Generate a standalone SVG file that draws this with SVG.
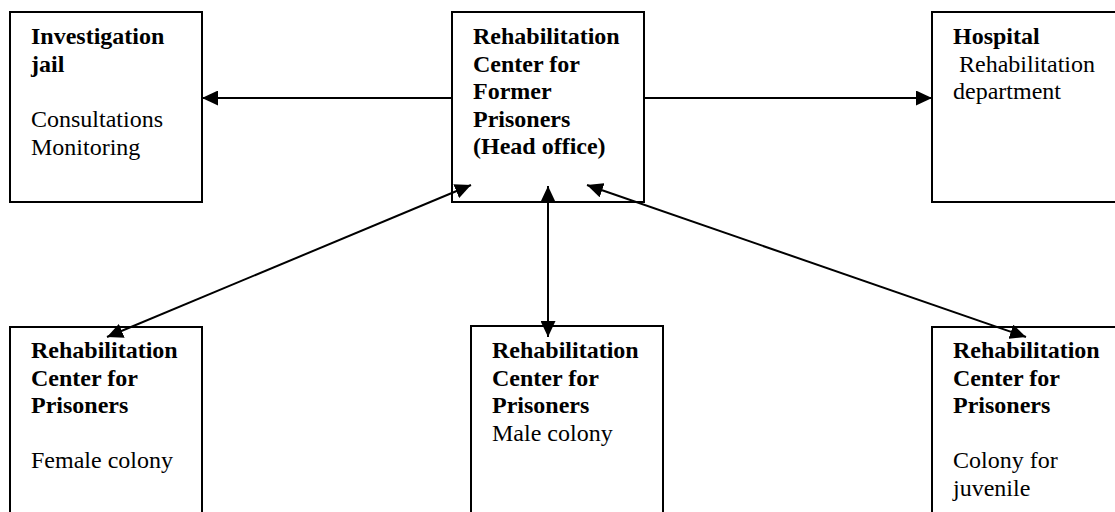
<svg xmlns="http://www.w3.org/2000/svg" width="1115" height="512" viewBox="0 0 1115 512">
<style>
.box{fill:#fff;stroke:#000;stroke-width:2}
.t{font-family:"Liberation Serif","Times New Roman",serif;font-size:24px;fill:#000}
.b{font-weight:bold}
.c{stroke:#000;stroke-width:2;fill:none}
</style>
<defs>
<marker id="ah" markerUnits="userSpaceOnUse" markerWidth="16" markerHeight="15" refX="16" refY="7.5" orient="auto-start-reverse">
<path d="M0,0 L16,7.5 L0,15 z" fill="#000"/>
</marker>
</defs>
<rect width="1115" height="512" fill="#fff"/>
<g id="investigation">
<rect class="box" x="10" y="12" width="192" height="190"/>
<text class="t b" x="31" y="44">Investigation</text>
<text class="t b" x="31" y="71.5">jail</text>
<text class="t" x="31" y="127">Consultations</text>
<text class="t" x="31" y="154.5">Monitoring</text>
</g>
<g id="headoffice">
<rect class="box" x="452" y="12" width="192" height="190"/>
<text class="t b" x="473" y="44">Rehabilitation</text>
<text class="t b" x="473" y="71.5">Center for</text>
<text class="t b" x="473" y="99">Former</text>
<text class="t b" x="473" y="126.5">Prisoners</text>
<text class="t b" x="473" y="154">(Head office)</text>
</g>
<g id="hospital">
<rect class="box" x="932" y="12" width="192" height="190"/>
<text class="t b" x="953" y="44">Hospital</text>
<text class="t" x="953" y="71.5" xml:space="preserve"> Rehabilitation</text>
<text class="t" x="953" y="99">department</text>
</g>
<g id="female">
<rect class="box" x="10" y="327" width="192" height="200"/>
<text class="t b" x="31" y="358">Rehabilitation</text>
<text class="t b" x="31" y="385.5">Center for</text>
<text class="t b" x="31" y="413">Prisoners</text>
<text class="t" x="31" y="468">Female colony</text>
</g>
<g id="male">
<rect class="box" x="471" y="326" width="192" height="200"/>
<text class="t b" x="492" y="358">Rehabilitation</text>
<text class="t b" x="492" y="385.5">Center for</text>
<text class="t b" x="492" y="413">Prisoners</text>
<text class="t" x="492" y="440.5">Male colony</text>
</g>
<g id="juvenile">
<rect class="box" x="932" y="327" width="192" height="200"/>
<text class="t b" x="953" y="358">Rehabilitation</text>
<text class="t b" x="953" y="385.5">Center for</text>
<text class="t b" x="953" y="413">Prisoners</text>
<text class="t" x="953" y="468">Colony for</text>
<text class="t" x="953" y="495.5">juvenile</text>
</g>
<g id="connectors">
<line class="c" x1="452" y1="98" x2="202" y2="98" marker-end="url(#ah)"/>
<line class="c" x1="644" y1="98" x2="932" y2="98" marker-end="url(#ah)"/>
<line class="c" x1="548" y1="186" x2="548" y2="337" marker-start="url(#ah)" marker-end="url(#ah)"/>
<line class="c" x1="471" y1="185" x2="107" y2="337" marker-start="url(#ah)" marker-end="url(#ah)"/>
<line class="c" x1="587" y1="185" x2="1026" y2="337" marker-start="url(#ah)" marker-end="url(#ah)"/>
</g>
</svg>
